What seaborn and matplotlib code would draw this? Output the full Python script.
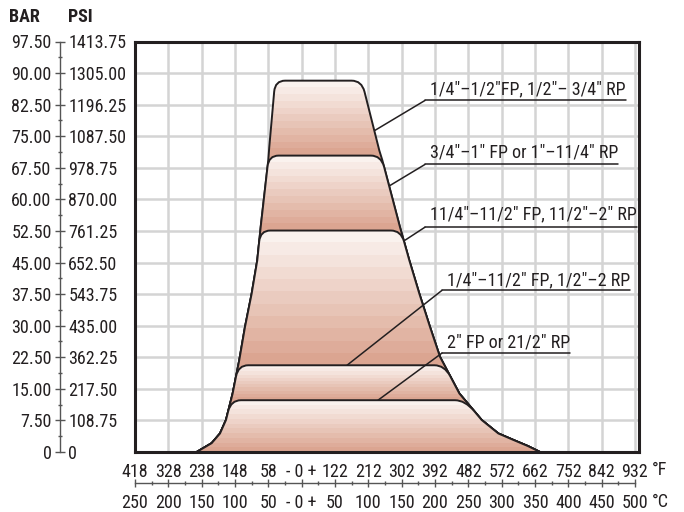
import os
import numpy as np
import matplotlib
matplotlib.use("Agg")
import matplotlib.pyplot as plt
import seaborn as sns
from matplotlib import font_manager
from matplotlib.path import Path
from matplotlib.patches import PathPatch
from matplotlib.colors import LinearSegmentedColormap

# Escala de temperatura (posicoes em graus C) e rotulos
temp_c = np.arange(-250, 501, 50)
c_labels = ['250', '200', '150', '100', '50', '- 0 +', '50', '100', '150', '200',
            '250', '300', '350', '400', '450', '500']
f_labels = ['418', '328', '238', '148', '58', '- 0 +', '122', '212', '302', '392',
            '482', '572', '662', '752', '842', '932']

# Escala de pressao
bar_ticks = np.arange(0, 97.6, 7.5)
bar_labels = ['0', '7.50', '15.00', '22.50', '30.00', '37.50', '45.00', '52.50',
              '60.00', '67.50', '75.00', '82.50', '90.00', '97.50']
psi_labels = ['0', '108.75', '217.50', '362.25', '435.00', '543.75', '652.50',
              '761.25', '870.00', '978.75', '1087.50', '1196.25', '1305.00', '1413.75']

# Contorno (de baixo para cima)
left_bar = [0, 2.1, 4.4, 7.6, 13.9, 21.8, 29.7, 37.6, 45.5, 53.4, 69.3, 72.4, 85.1, 90.0]
left_temp = [-157.5, -135.0, -122.5, -113.5, -103.5, -93.6, -85.0, -75.0, -66.6,
             -61.5, -50.1, -48.6, -41.5, -38.8]
right_bar = [0, 1.4, 2.8, 4.4, 7.6, 13.9, 22.6, 29.7, 37.6, 45.5, 53.4, 69.3, 71.6, 85.1, 90.0]
right_temp = [357.5, 339.5, 318.5, 295.0, 270.0, 236.5, 207.5, 192.5, 176.5, 161.5,
              147.5, 121.0, 116.5, 95.0, 87.0]

# Pressao maxima de cada faixa de tamanho
region_top = [88.2, 70.4, 52.6, 20.6, 12.3]
size_labels = ['1/4"–1/2"FP, 1/2"– 3/4" RP',
               '3/4"–1" FP or 1"–11/4" RP',
               '11/4"–11/2" FP, 11/2"–2" RP',
               '1/4"–11/2" FP, 1/2"–2 RP',
               '2" FP or 21/2" RP']
label_temp = [192.5, 192.5, 192.5, 218.0, 218.0]
label_bar = [85.0, 70.0, 55.2, 39.6, 24.9]
line_temp = [185.0, 185.0, 185.0, 210.5, 210.5]
line_bar = [83.5, 68.3, 53.4, 38.4, 23.5]
leader_temp = [110.0, 132.5, 155.0, 68.0, 114.5]
leader_bar = [76.4, 63.3, 50.3, 20.6, 12.3]

sns.set_theme(style='white')

# procurar uma fonte estreita instalada
cands = []
for f in font_manager.fontManager.ttflist:
    base = os.path.basename(f.fname)
    tag = f.name + ' ' + base
    if ('Narrow' in tag or 'Condensed' in tag or 'condensed' in str(f.stretch)) \
            and f.style == 'normal' and 'Semi' not in tag and 'Extra' not in tag:
        cands.append(f)
pref = ['LiberationSansNarrow', 'RobotoCondensed', 'DejaVuSansCondensed',
        'NotoSans-Condensed']
chosen = None
for p in pref:
    for f in cands:
        if p in os.path.basename(f.fname):
            chosen = f
            break
    if chosen:
        break
if chosen is None and cands:
    chosen = cands[0]
if chosen is not None:
    plt.rcParams['font.family'] = [chosen.name, 'DejaVu Sans']
    plt.rcParams['font.stretch'] = chosen.stretch
else:
    plt.rcParams['font.family'] = ['DejaVu Sans']

ink = '#231f20'
fs = 13
W, H = 684, 512

fig = plt.figure(figsize=(6.84, 5.12), dpi=100)
ax = fig.add_axes([135 / W, 60 / H, 504 / W, 410.5 / H])
ax.set_xlim(-250, 506)
ax.set_ylim(0, 97.5)
ax.autoscale(False)
ax.set_xticks(temp_c[1:])
ax.set_yticks(bar_ticks[1:-1])
ax.grid(True, color='#d4d4d4', lw=1.8, zorder=0)
ax.set_axisbelow(True)
ax.tick_params(length=0, labelbottom=False, labelleft=False)
for s in ax.spines.values():
    s.set_visible(True)
    s.set_color(ink)
    s.set_linewidth(2.2)
    s.set_zorder(20)

lb, lt = np.array(left_bar), np.array(left_temp)
rb, rt = np.array(right_bar), np.array(right_temp)


def region_path(top, r_dx=15.0, r_dy=2.6):
    xl = np.interp(top, lb, lt)
    xr = np.interp(top, rb, rt)
    yc = top - r_dy
    verts = [(lt[0], 0)]
    codes = [Path.MOVETO]
    for t, b in zip(lt, lb):
        if 0 < b < yc:
            verts.append((t, b))
            codes.append(Path.LINETO)
    verts.append((np.interp(yc, lb, lt), yc))
    codes.append(Path.LINETO)
    verts += [(xl, top), (xl + r_dx, top), (xr - r_dx, top), (xr, top),
              (np.interp(yc, rb, rt), yc)]
    codes += [Path.CURVE3, Path.CURVE3, Path.LINETO, Path.CURVE3, Path.CURVE3]
    for t, b in zip(rt[::-1], rb[::-1]):
        if 0 < b < yc:
            verts.append((t, b))
            codes.append(Path.LINETO)
    verts += [(rt[0], 0), (lt[0], 0)]
    codes += [Path.LINETO, Path.CLOSEPOLY]
    return Path(verts, codes)


cmap = LinearSegmentedColormap.from_list('faixa', ['#dba591', '#fefaf8'])
for i, top in enumerate(region_top):
    lower = region_top[i + 1] if i + 1 < len(region_top) else 0
    z = 2 + i
    patch = PathPatch(region_path(top), facecolor='none', edgecolor=ink,
                      lw=1.4, zorder=z + 0.5)
    ax.add_patch(patch)
    yy = np.linspace(0, top, 500)
    t = np.clip((yy - lower) / (top - lower), 0, 1)
    t = np.floor(t * 11) / 11
    im = ax.imshow(t[:, None], extent=[-250, 506, 0, top], origin='lower',
                   aspect='auto', cmap=cmap, vmin=0, vmax=1, zorder=z,
                   interpolation='nearest')
    im.set_clip_path(patch)

ax.set_xlim(-250, 506)
ax.set_ylim(0, 97.5)

texts = []
for i, lab in enumerate(size_labels):
    texts.append(ax.text(label_temp[i], label_bar[i], lab, ha='left', va='baseline',
                         fontsize=fs, color=ink, zorder=10))
fig.canvas.draw()
inv = ax.transData.inverted()
for i, t in enumerate(texts):
    bb = t.get_window_extent()
    x_end = inv.transform((bb.x1, bb.y0))[0]
    ax.plot([line_temp[i], x_end], [line_bar[i], line_bar[i]], color=ink, lw=1.1, zorder=10)
    ax.plot([line_temp[i], leader_temp[i]], [line_bar[i], leader_bar[i]],
            color=ink, lw=1.1, zorder=10)

# Eixo de pressao (BAR / PSI)
ax_p = fig.add_axes([60 / W, 60 / H, 1e-5, 410.5 / H])
ax_p.set_ylim(0, 97.5)
ax_p.set_yticks(bar_ticks)
ax_p.set_yticklabels(bar_labels)
ax_p.set_yticks(bar_ticks[:-1] + 3.75, minor=True)
ax_p.set_xticks([])
ax_p.tick_params(axis='y', which='major', direction='inout', length=6.5, width=1,
                 pad=2.8, color='#555555', labelcolor=ink, labelsize=fs)
ax_p.tick_params(axis='y', which='minor', direction='inout', length=3.5, width=1,
                 color='#555555')
sns.despine(ax=ax_p, top=True, right=True, bottom=True, left=False)
ax_p.spines['left'].set_color('#555555')
ax_p.spines['left'].set_linewidth(1)
ax_p.patch.set_visible(False)

ax_q = ax_p.twinx()
ax_q.set_ylim(0, 97.5)
ax_q.set_yticks(bar_ticks)
ax_q.set_yticklabels(psi_labels)
ax_q.tick_params(axis='y', length=0, pad=6, labelcolor=ink, labelsize=fs)
for s in ax_q.spines.values():
    s.set_visible(False)

# Eixo de temperatura (F em cima, C embaixo)
ax_t = fig.add_axes([135 / W, (H - 483.3) / H, 500 / W, 1e-5])
ax_t.set_xlim(-250, 500)
ax_t.set_xticks(temp_c)
ax_t.set_xticklabels(c_labels)
ax_t.set_xticks(temp_c[:-1] + 25, minor=True)
ax_t.set_yticks([])
ax_t.tick_params(axis='x', which='major', direction='inout', length=6, width=1,
                 pad=4.5, color='#555555', labelcolor=ink, labelsize=fs)
ax_t.tick_params(axis='x', which='minor', direction='inout', length=3, width=1,
                 color='#555555')
sns.despine(ax=ax_t, top=True, right=True, left=True, bottom=False)
ax_t.spines['bottom'].set_color('#555555')
ax_t.spines['bottom'].set_linewidth(1)
ax_t.patch.set_visible(False)

ax_f = ax_t.twiny()
ax_f.set_xlim(-250, 500)
ax_f.set_xticks(temp_c)
ax_f.set_xticklabels(f_labels)
ax_f.tick_params(axis='x', length=0, pad=2, labelcolor=ink, labelsize=fs)
for s in ax_f.spines.values():
    s.set_visible(False)

fig.text(652 / W, 1 - 470 / H, '°F', ha='left', va='center', fontsize=fs, color=ink)
fig.text(652 / W, 1 - 502 / H, '°C', ha='left', va='center', fontsize=fs, color=ink)
fig.text(9 / W, 1 - 17 / H, 'BAR', ha='left', va='center', fontsize=fs,
         fontweight='bold', color=ink)
fig.text(68 / W, 1 - 17 / H, 'PSI', ha='left', va='center', fontsize=fs,
         fontweight='bold', color=ink)

fig.savefig('out.png', dpi=100)
